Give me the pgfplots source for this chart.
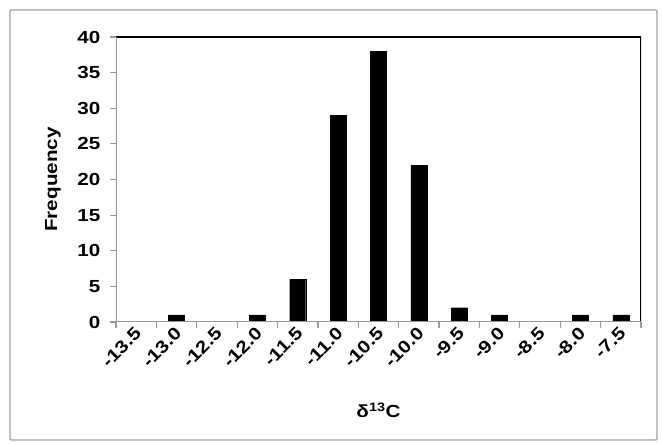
\documentclass[border=0pt]{standalone}
\usepackage{fontspec}
\setmainfont[FakeStretch=1.18]{Liberation Sans}
\usepackage{pgfplots}
\pgfplotsset{compat=1.18}
\begin{document}
\begin{tikzpicture}
\path (0pt,0pt) rectangle (662pt,444pt);
\draw[gray!75, line width=1.3pt, rounded corners=1pt] (10pt,4pt) rectangle (657pt,434pt);
\begin{axis}[
  at={(116pt,122pt)}, anchor=south west, scale only axis,
  width=525pt, height=285pt,
  xmin=-0.5, xmax=12.5, ymin=0, ymax=40,
  ytick={0,5,...,40},
  xtick={0,...,12},
  xticklabels={-13.5,-13.0,-12.5,-12.0,-11.5,-11.0,-10.5,-10.0,-9.5,-9.0,-8.5,-8.0,-7.5},
  minor xtick={-0.5,0.5,1.5,2.5,3.5,4.5,5.5,6.5,7.5,8.5,9.5,10.5,11.5,12.5},
  major x tick style={draw=none},
  tick align=outside, tick pos=left,
  major tick length=6pt, minor tick length=6pt,
  every tick/.style={draw=gray!80, line width=1.2pt},
  axis line style={draw=none},
  /pgf/number format/assume math mode=true,
  ticklabel style={font=\bfseries\fontsize{17.5}{17.5}\selectfont},
  x tick label style={rotate=45, anchor=east, xshift=3pt, yshift=-3pt},
  y tick label style={xshift=-6pt},
  xlabel={δ\textsuperscript{13}C},
  ylabel={Frequency},
  label style={font=\bfseries\fontsize{17.5}{17.5}\selectfont},
  xlabel style={at={(axis description cs:0.5,-0.31)}, anchor=center},
  ylabel style={at={(axis description cs:-0.12,0.5)}, anchor=center},
  ybar, bar width=16pt,
]
\addplot[fill=black, draw=black] coordinates {
  (1,1) (3,1) (4,6) (5,29) (6,38) (7,22) (8,2) (9,1) (11,1) (12,1)
};
\draw[black, line width=1.2pt] (rel axis cs:0,1) -- (rel axis cs:1,1) -- (rel axis cs:1,0);
\draw[gray!80, line width=1.2pt] (rel axis cs:0,1) -- (rel axis cs:0,0) -- (rel axis cs:1,0);
\end{axis}
\end{tikzpicture}
\end{document}
